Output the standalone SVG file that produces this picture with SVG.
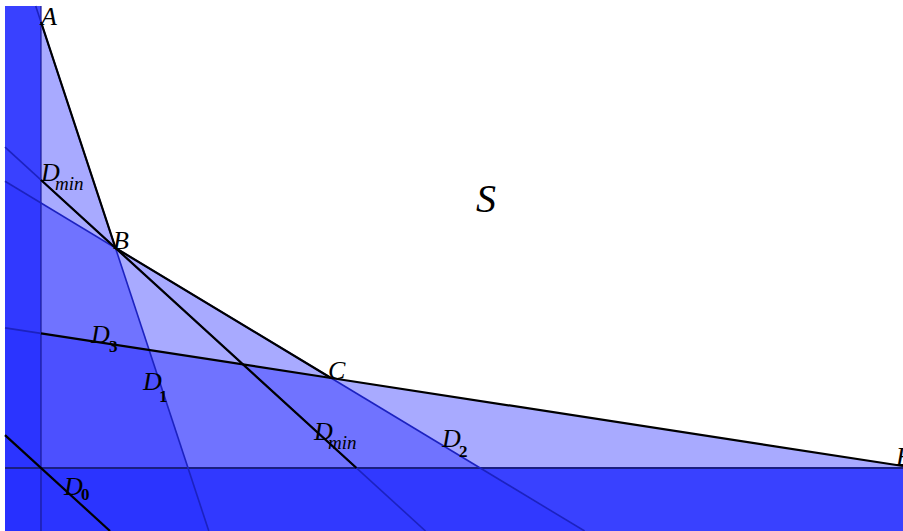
<svg xmlns="http://www.w3.org/2000/svg" width="903" height="531" viewBox="0 0 903 531">
<style>
.hp{fill:rgb(15,20,255);fill-opacity:0.36}
.strip{fill:rgb(38,48,255);fill-opacity:0.86}
.thin{stroke:#1c22c0;stroke-width:1.6;fill:none}
.bold{stroke:#000;stroke-width:2.2;fill:none;stroke-linejoin:round}
.lbl{font-family:"Liberation Serif","Times New Roman",serif;font-style:italic;font-size:26px;fill:#000}
.sub{font-family:"Liberation Serif","Times New Roman",serif;font-style:italic;font-size:19px;fill:#000}
.num{font-family:"Liberation Serif","Times New Roman",serif;font-weight:bold;font-size:17px;fill:#000}
</style>
<rect width="903" height="531" fill="#fff"/>
<g id="regions">
<polygon class="hp" points="5,6 35.7,6 208.8,531 5,531"/>
<polygon class="hp" points="5,181.3 584.6,531 5,531"/>
<polygon class="hp" points="5,327.9 903,466 903,531 5,531"/>
<rect class="strip" x="5" y="6" width="36" height="525"/>
<rect class="strip" x="5" y="468" width="898" height="63"/>
</g>
<g id="connectors">
<line x1="41" y1="6" x2="41" y2="531" stroke="#1a1a95" stroke-width="1.2"/>
<line x1="5" y1="468" x2="903" y2="468" stroke="#1a1f80" stroke-width="2"/>
<line class="thin" x1="35.7" y1="6" x2="208.8" y2="531"/>
<line class="thin" x1="5" y1="181.3" x2="584.6" y2="531"/>
<line class="thin" x1="5" y1="327.9" x2="41" y2="333.4"/>
<line class="thin" x1="5" y1="147.1" x2="425.5" y2="531"/>
<polyline class="bold" points="41,22 115.5,248 331,378 903,466"/>
<line class="bold" x1="41" y1="333.4" x2="331" y2="378"/>
<line class="bold" x1="41" y1="180" x2="356.5" y2="468"/>
<line class="bold" x1="5" y1="435.1" x2="110" y2="531"/>
</g>
<g id="labels">
<text class="lbl" x="41" y="25">A</text>
<text class="lbl" x="41" y="181">D</text><text class="sub" x="55" y="190">min</text>
<text class="lbl" x="113" y="249">B</text>
<text class="lbl" x="476" y="212" style="font-size:40px">S</text>
<text class="lbl" x="328" y="379">C</text>
<text class="lbl" x="91" y="343">D</text><text class="num" x="109" y="352">3</text>
<text class="lbl" x="143" y="390">D</text><text class="num" x="159" y="402">1</text>
<text class="lbl" x="314" y="440">D</text><text class="sub" x="328" y="449">min</text>
<text class="lbl" x="442" y="447">D</text><text class="num" x="459" y="457">2</text>
<text class="lbl" x="64" y="495">D</text><text class="num" x="81" y="500">0</text>
<text class="lbl" x="896" y="465">E</text>
</g>
</svg>
